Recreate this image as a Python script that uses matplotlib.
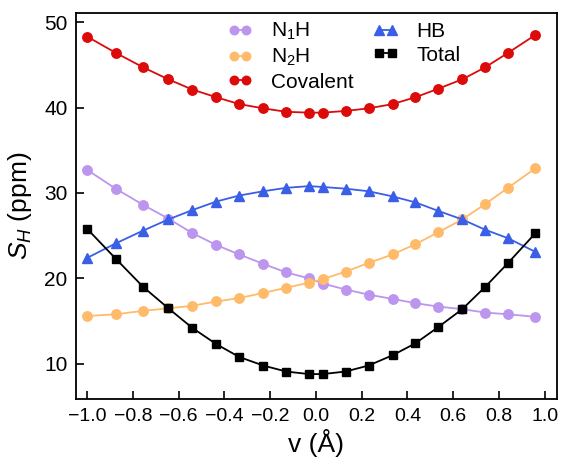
import numpy as np
import matplotlib
matplotlib.use("Agg")
from matplotlib import pyplot as plt

plt.rcParams['font.family'] = ['Liberation Sans', 'DejaVu Sans']
plt.rcParams['mathtext.fontset'] = 'custom'
plt.rcParams['mathtext.rm'] = 'Liberation Sans'
plt.rcParams['mathtext.it'] = 'Liberation Sans:italic'

# displacement (Angstrom)
v = [-1.0, -0.875, -0.755, -0.645, -0.54, -0.435, -0.335, -0.23, -0.13, -0.03,
     0.03, 0.13, 0.23, 0.335, 0.435, 0.535, 0.64, 0.74, 0.84, 0.96]

n1h = [32.7, 30.5, 28.6, 27.0, 25.3, 23.9, 22.8, 21.7, 20.7, 20.0,
       19.4, 18.7, 18.1, 17.6, 17.1, 16.7, 16.4, 16.0, 15.8, 15.5]
n2h = [15.6, 15.8, 16.2, 16.5, 16.8, 17.3, 17.7, 18.3, 18.9, 19.5,
       19.9, 20.8, 21.8, 22.8, 24.0, 25.4, 26.9, 28.7, 30.6, 32.9]
covalent = [48.3, 46.4, 44.7, 43.3, 42.1, 41.2, 40.4, 39.9, 39.5, 39.4,
            39.4, 39.6, 39.9, 40.4, 41.2, 42.2, 43.3, 44.7, 46.4, 48.5]
hb = [22.4, 24.1, 25.6, 26.9, 28.0, 29.0, 29.7, 30.2, 30.6, 30.8,
      30.7, 30.5, 30.2, 29.6, 28.9, 27.9, 26.9, 25.7, 24.7, 23.1]
total = [25.8, 22.3, 19.0, 16.5, 14.2, 12.3, 10.8, 9.8, 9.1, 8.8,
         8.8, 9.1, 9.8, 11.0, 12.4, 14.3, 16.4, 19.0, 21.8, 25.3]

xticks = [-1.0, -0.8, -0.6, -0.4, -0.2, 0.0, 0.2, 0.4, 0.6, 0.8, 1.0]
xticklabels = ['\u22121.0', '\u22120.8', '\u22120.6', '\u22120.4', '\u22120.2', '0.0',
               '0.2', '0.4', '0.6', '0.8', '1.0']
yticks = [10, 20, 30, 40, 50]

fig = plt.figure(figsize=(5.61, 4.63), dpi=100)
ax = fig.add_axes([0.135, 0.1376, 0.857, 0.835])

ax.plot(v, n1h, '-o', color='#BB95EE', ms=6.8, lw=1.3, label='N$_1$H')
ax.plot(v, n2h, '-o', color='#FFBA6A', ms=6.8, lw=1.3, label='N$_2$H')
ax.plot(v, covalent, '-o', color='#DD0A0A', ms=6.8, lw=1.3, label='Covalent')
ax.plot(v, hb, '-^', color='#3A5FE6', ms=7.5, lw=1.3, label='HB')
ax.plot(v, total, '-s', color='black', ms=6, lw=1.3, label='Total')

ax.set_xlim(-1.05, 1.052)
ax.set_ylim(5.85, 51.1)
ax.set_xticks(xticks)
ax.set_xticklabels(xticklabels)
ax.set_yticks(yticks)
ax.tick_params(direction='in', length=6, width=1.2, pad=6)
ax.tick_params(axis='x', labelsize=14)
ax.tick_params(axis='y', labelsize=15)
for s in ax.spines.values():
    s.set_linewidth(1.3)

ax.set_xlabel('v (Å)', fontsize=19, labelpad=3)
ax.set_ylabel('$S_H$ (ppm)', fontsize=19, labelpad=7)

ax.legend(ncol=2, loc='upper left', bbox_to_anchor=(0.277, 1.027), frameon=False,
          fontsize=15, numpoints=2, handlelength=1.2, columnspacing=0.9,
          labelspacing=0.22, handletextpad=0.9, markerscale=0.9)

fig.savefig('out.png', dpi=100)
